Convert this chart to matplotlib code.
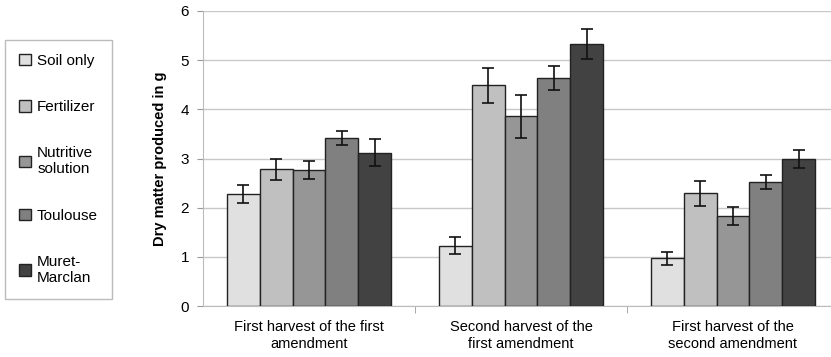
import matplotlib
matplotlib.use("Agg")
import matplotlib.pyplot as plt
import numpy as np
from matplotlib.patches import Patch

categories = ["First harvest of the first\namendment",
              "Second harvest of the\nfirst amendment",
              "First harvest of the\nsecond amendment"]
series = ["Soil only", "Fertilizer", "Nutritive\nsolution", "Toulouse", "Muret-\nMarclan"]
values = {
    "Soil only":          [2.28, 1.23, 0.97],
    "Fertilizer":         [2.78, 4.49, 2.29],
    "Nutritive\nsolution": [2.76, 3.86, 1.83],
    "Toulouse":           [3.41, 4.64, 2.52],
    "Muret-\nMarclan":    [3.12, 5.33, 2.99],
}
errors = {
    "Soil only":          [0.19, 0.17, 0.13],
    "Fertilizer":         [0.22, 0.36, 0.26],
    "Nutritive\nsolution": [0.18, 0.44, 0.19],
    "Toulouse":           [0.14, 0.25, 0.14],
    "Muret-\nMarclan":    [0.28, 0.31, 0.19],
}
colors = ["#e0e0e0", "#c0c0c0", "#969696", "#808080", "#424242"]

plt.rcParams['font.family'] = ['Liberation Sans', 'DejaVu Sans']

fig = plt.figure(figsize=(8.31, 3.57), dpi=100)
ax = fig.add_axes([203/831, 1-306/357, 636/831, 295/357])

x = np.arange(len(categories))
bw = 0.155
n = len(series)
for i, s in enumerate(series):
    pos = x + (i - (n-1)/2) * bw
    ax.bar(pos, values[s], bw, color=colors[i], edgecolor="#222222", linewidth=1.0, zorder=3,
           yerr=errors[s], error_kw=dict(ecolor="#111111", elinewidth=1.2, capsize=4, capthick=1.2, zorder=4))

ax.set_xlim(-0.5, 2.5)
ax.set_ylim(0, 6)
ax.set_yticks(range(0, 7))
ax.tick_params(axis='y', labelsize=11, length=4, color="#999999", pad=6)
ax.set_xticks(x)
ax.set_xticklabels(categories, fontsize=10.5, linespacing=1.25)
ax.tick_params(axis='x', length=0, pad=10)
ax.set_xticks([0.5, 1.5], minor=True)
ax.tick_params(axis='x', which='minor', length=5, color="#999999", direction='out')
ax.yaxis.grid(True, color="#c8c8c8", linewidth=1.0, zorder=0)
ax.set_axisbelow(True)
for sp in ["top", "right"]:
    ax.spines[sp].set_visible(False)
ax.spines["left"].set_color("#bbbbbb")
ax.spines["bottom"].set_color("#bbbbbb")
ax.set_ylabel("Dry matter produced in g", fontsize=10.5, fontweight='bold', labelpad=10)

handles = [Patch(facecolor=colors[i], edgecolor="#222222", label=s) for i, s in enumerate(series)]
leg = fig.legend(handles=handles, loc='upper left', bbox_to_anchor=(5/831, 1-40/357),
                 fontsize=11, frameon=True, fancybox=False, edgecolor="#aaaaaa",
                 labelspacing=2.1, handlelength=0.8, handleheight=0.8, handletextpad=0.4,
                 borderpad=0.9, borderaxespad=0)
leg.get_frame().set_linewidth(1.0)

fig.savefig("out.png", dpi=100)
